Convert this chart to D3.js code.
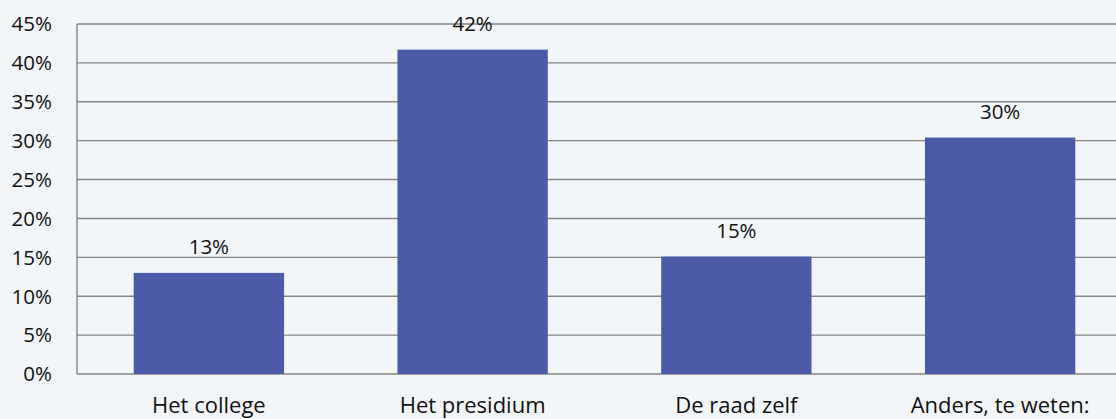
<!DOCTYPE html>
<html>
<head>
<meta charset="utf-8">
<script src="https://cdn.jsdelivr.net/npm/d3@7"></script>
<style>
  html, body { margin: 0; padding: 0; background: #f3f6f8; }
  svg { display: block; }
  text { font-family: "Open Sans", "Noto Sans", sans-serif; fill: #111; }
</style>
</head>
<body>
<svg id="chart" width="1116" height="419"></svg>
<script>
const categories = ["Het college", "Het presidium", "De raad zelf", "Anders, te weten:"];
const values = [13, 41.7, 15.1, 30.4];
const valueLabels = ["13%", "42%", "15%", "30%"];
const yTicks = [0, 5, 10, 15, 20, 25, 30, 35, 40, 45];

const svg = d3.select("#chart");
const plotLeft = 77, stepW = 263.75, plotTop = 24, plotBottom = 374;

const x = d3.scaleBand().domain(categories)
  .range([plotLeft, plotLeft + stepW * categories.length])
  .paddingInner(0.43).paddingOuter(0.215);
const y = d3.scaleLinear().domain([0, 45]).range([plotBottom, plotTop]);

// gridlines
svg.append("g").selectAll("line").data(yTicks).join("line")
  .attr("x1", plotLeft).attr("x2", 1116)
  .attr("y1", d => y(d)).attr("y2", d => y(d))
  .attr("stroke", "#858585").attr("stroke-width", 1.4);

// left axis line
svg.append("line").attr("x1", plotLeft).attr("x2", plotLeft)
  .attr("y1", y(45)).attr("y2", y(0))
  .attr("stroke", "#858585").attr("stroke-width", 1.4);

// y tick labels
svg.append("g").selectAll("text").data(yTicks).join("text")
  .attr("x", plotLeft - 25).attr("y", d => y(d)).attr("dy", "0.36em")
  .attr("text-anchor", "end").attr("font-size", 20.5)
  .text(d => d + "%");

// bars
svg.append("g").selectAll("rect").data(values).join("rect")
  .attr("x", (d, i) => x(categories[i]))
  .attr("y", d => y(d))
  .attr("width", x.bandwidth())
  .attr("height", d => y(0) - y(d))
  .attr("fill", "#4b5ba8");

// value labels
svg.append("g").selectAll("text").data(values).join("text")
  .attr("x", (d, i) => x(categories[i]) + x.bandwidth() / 2)
  .attr("y", d => y(d) - 19)
  .attr("text-anchor", "middle").attr("font-size", 20.5)
  .text((d, i) => valueLabels[i]);

// category labels
svg.append("g").selectAll("text").data(categories).join("text")
  .attr("x", d => x(d) + x.bandwidth() / 2)
  .attr("y", 413)
  .attr("text-anchor", "middle").attr("font-size", 22)
  .text(d => d);
</script>
</body>
</html>
